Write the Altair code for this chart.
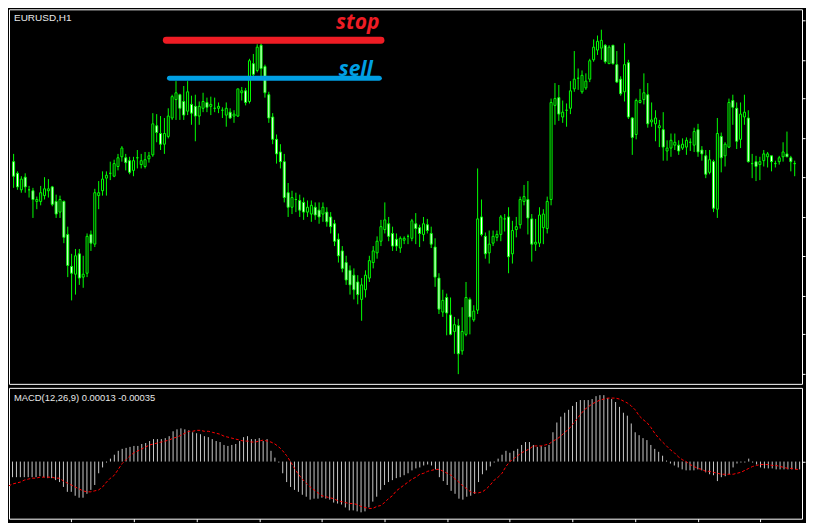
import altair as alt
import pandas as pd

SYMBOL = "EURUSD,H1"
MACD_LABEL = "MACD(12,26,9) 0.00013 -0.00035"
BASE = 1.3  # prices below are pips above 1.30000

O = [242,230,213,226,213,212,201,201,207,212,
     216,201,190,201,167,134,126,147,123,127,
     167,157,207,212,225,230,227,237,247,246,
     243,233,246,239,237,245,249,279,271,260,
     268,287,306,311,304,294,301,299,289,297,
     303,299,297,297,295,290,293,289,289,313,
     315,304,343,336,362,340,311,288,265,252,
     242,210,195,203,202,200,190,188,195,192,
     188,190,185,178,162,150,138,130,125,118,
     100,110,122,138,148,160,172,178,168,162,
     153,161,165,163,178,174,167,177,168,154,
     122,87,102,84,67,73,47,64,100,79,
     89,185,165,148,158,164,167,183,185,147,
     172,177,201,203,183,157,158,174,173,203,
     300,308,288,295,297,317,328,314,318,327,
     347,357,359,362,343,362,342,327,314,344,
     287,270,303,306,311,283,281,277,275,253,
     256,259,259,256,257,262,259,275,254,248,
     231,242,193,268,248,257,305,297,265,288,
     287,240,242,239,243,247,248,240,242,247,
     250,246,240]
H = [250,232,227,230,217,215,206,217,226,224,
     217,208,207,202,175,147,152,152,145,168,
     171,214,222,232,232,242,244,250,258,250,
     247,247,254,250,252,252,292,291,289,287,
     297,311,325,312,320,325,310,311,304,313,
     308,309,308,303,298,303,297,295,317,319,
     318,348,353,363,364,342,314,292,270,260,
     250,220,212,210,208,205,202,202,200,200,
     200,195,190,182,168,155,145,135,132,125,
     122,130,145,155,165,182,200,185,175,168,
     165,165,167,183,189,177,185,183,175,163,
     127,110,106,102,82,80,92,118,102,94,
     235,203,169,171,171,171,187,188,195,181,
     185,206,218,222,188,183,195,193,206,307,
     323,321,305,302,325,356,338,336,333,348,
     368,372,378,363,362,362,356,330,364,347,
     288,307,317,333,323,303,295,285,293,264,
     271,271,264,266,267,266,277,281,258,254,
     254,244,287,272,262,307,311,303,303,311,
     295,250,248,247,254,252,248,243,248,262,
     273,248,243]
L = [215,213,210,210,205,184,193,197,203,205,
     196,184,184,158,123,99,105,115,112,123,
     150,154,193,207,207,223,226,233,242,233,
     229,227,235,235,235,241,247,262,254,250,
     266,285,285,285,285,290,280,263,280,293,
     293,290,293,292,287,278,286,282,288,305,
     300,302,328,334,330,308,282,260,240,235,
     200,185,188,190,185,182,185,180,182,178,
     180,175,168,155,138,128,115,105,100,95,
     78,102,118,132,142,155,168,160,150,150,
     148,157,157,160,157,154,160,168,153,113,
     85,82,63,63,44,23,43,62,64,77,
     85,165,142,137,155,160,160,170,127,137,
     164,173,197,167,139,150,154,157,168,197,
     280,284,282,278,291,314,316,312,316,324,
     345,352,347,343,343,342,323,310,304,286,
     249,265,302,301,277,278,263,257,243,243,
     247,254,249,254,249,253,252,247,243,225,
     229,190,184,231,237,256,280,255,256,280,
     241,225,222,223,237,236,232,236,239,242,
     247,232,227]
C = [227,216,224,216,213,203,203,210,214,214,
     198,188,203,164,135,127,145,122,126,165,
     158,210,210,224,228,230,240,246,256,241,
     231,243,246,243,244,248,281,272,260,271,
     289,309,313,297,290,314,292,289,299,304,
     298,301,297,299,295,297,287,291,317,315,
     303,346,332,360,338,313,287,265,250,242,
     205,195,205,203,192,190,195,197,187,185,
     195,180,175,160,145,132,120,115,110,105,
     115,125,140,150,160,175,182,165,155,155,
     163,163,165,181,173,168,178,171,157,123,
     90,99,86,64,74,44,67,102,82,88,
     183,167,147,157,165,167,185,183,144,171,
     175,203,206,184,157,159,187,188,201,303,
     307,291,293,295,315,327,328,331,325,346,
     360,366,367,345,360,343,324,312,342,288,
     267,305,305,313,281,285,287,279,257,256,
     264,262,253,260,264,262,273,252,250,229,
     244,194,271,246,260,303,298,263,291,293,
     242,240,237,242,250,250,242,240,246,252,
     247,242,240]

# MACD histogram and signal, in units of 0.00001
HIST = [-16,-16,-16,-16,-16,-16,-16,-16,-15,-16,
        -17,-17,-19,-21,-26,-31,-31,-35,-37,-37,
        -33,-29,-24,-12,-6,-1,3,7,11,13,
        14,15,16,16,18,19,21,23,23,23,
        24,26,31,33,34,33,32,30,29,28,
        26,25,23,21,20,17,16,17,18,21,
        25,26,23,23,24,21,23,11,4,-1,
        -12,-21,-26,-29,-31,-34,-36,-39,-38,-38,
        -37,-38,-39,-42,-43,-44,-47,-50,-50,-51,
        -52,-51,-47,-41,-36,-29,-24,-21,-19,-17,
        -16,-14,-12,-9,-7,-6,-4,-3,-4,-8,
        -16,-20,-24,-30,-33,-38,-39,-36,-35,-33,
        -21,-13,-9,-5,-1,3,7,11,9,11,
        13,17,20,20,17,15,16,15,17,30,
        40,46,50,53,57,61,63,63,63,64,
        67,68,68,65,64,61,56,50,47,39,
        30,27,24,22,17,13,10,6,1,-2,
        -4,-6,-8,-9,-9,-9,-8,-9,-11,-13,
        -14,-20,-16,-15,-13,-6,-2,-1,-1,3,
        -1,-3,-6,-7,-7,-7,-8,-8,-8,-8,
        -8,-8,-8]
SIGNAL = [-25,-23,-22,-21,-19,-18,-17,-17,-16,-16,
          -16,-16,-17,-17,-20,-22,-24,-26,-28,-30,
          -31,-31,-30,-29,-26,-21,-17,-14,-8,-2,
          2,6,9,11,13,15,17,18,19,20,
          21,22,24,25,27,29,31,31,32,32,
          31,31,30,29,28,26,25,24,23,22,
          21,21,20,20,21,22,21,20,18,15,
          11,6,0,-7,-13,-18,-22,-26,-29,-32,
          -35,-36,-37,-38,-40,-41,-42,-43,-43,-44,
          -46,-47,-48,-48,-46,-45,-42,-38,-35,-30,
          -27,-24,-21,-18,-16,-13,-12,-10,-9,-8,
          -8,-10,-12,-14,-18,-21,-25,-28,-31,-32,
          -32,-31,-28,-24,-19,-16,-12,-5,0,3,
          6,9,11,13,16,16,16,17,18,21,
          23,26,30,33,38,43,48,53,56,59,
          61,63,64,65,65,65,64,62,60,57,
          53,47,43,40,35,29,24,20,16,12,
          9,5,2,0,-3,-5,-7,-8,-10,-10,
          -11,-12,-13,-13,-13,-13,-12,-11,-9,-7,
          -5,-4,-3,-3,-3,-4,-4,-5,-6,-7,
          -7,-8,-8]

# annotation levels (pips above 1.30000), drawn between bar indices
LEVEL_NAMES = ["stop", "sell"]
LEVEL_PIPS = [367, 328]
LEVEL_FROM = [39.5, 40.3]
LEVEL_TO = [95.0, 94.6]
LEVEL_COLORS = ["#ee1c24", "#009fe3"]
LEVEL_WIDTHS = [7, 5]
LABEL_PIPS = [379, 330]
LABEL_AT = [94.6, 92.9]

PRICE_TICKS = [388, 347, 307, 266, 226, 185, 145, 104, 64, 23]
TIME_TICKS = [16, 32, 48, 64, 80, 96, 112, 128, 144, 160, 176, 192]

n = len(C)
df = pd.DataFrame({
    "bar": list(range(n)),
    "open": [BASE + v / 1e4 for v in O],
    "high": [BASE + v / 1e4 for v in H],
    "low": [BASE + v / 1e4 for v in L],
    "close": [BASE + v / 1e4 for v in C],
    "hist": [v / 1e5 for v in HIST],
    "signal": [v / 1e5 for v in SIGNAL],
    "zero": [0.0] * n,
})
lv = pd.DataFrame({
    "name": LEVEL_NAMES,
    "price": [BASE + v / 1e4 for v in LEVEL_PIPS],
    "x1": LEVEL_FROM,
    "x2": LEVEL_TO,
    "lp": [BASE + v / 1e4 for v in LABEL_PIPS],
    "lx": LABEL_AT,
})

W = 794
XDOM = [0.1, 202.6]
xs = alt.Scale(domain=XDOM, nice=False, zero=False)
ys = alt.Scale(domain=[BASE + 13 / 1e4, BASE + 399 / 1e4], nice=False, zero=False)
ms = alt.Scale(domain=[-58.5 / 1e5, 75.5 / 1e5], nice=False, zero=False)

yaxis = alt.Axis(orient="right", values=[BASE + v / 1e4 for v in PRICE_TICKS], labels=False,
                 ticks=True, tickSize=3, tickColor="#ffffff", domain=False, grid=False, title=None)
xnone = alt.X("bar:Q", scale=xs, axis=None)

base = alt.Chart(df)
wicks = base.mark_rule(color="#00ff00", strokeWidth=1, clip=True).encode(
    x=xnone, y=alt.Y("low:Q", scale=ys, axis=yaxis), y2="high:Q")
bodies = base.mark_bar(size=2, stroke="#00ff00", strokeWidth=1, clip=True).encode(
    x=xnone, y=alt.Y("open:Q", scale=ys, axis=yaxis), y2="close:Q",
    fill=alt.condition("datum.close < datum.open", alt.value("#ffffff"), alt.value("#000000")))
lines = alt.Chart(lv).mark_rule(strokeCap="round").encode(
    x=alt.X("x1:Q", scale=xs, axis=None), x2="x2:Q",
    y=alt.Y("price:Q", scale=ys, axis=yaxis),
    color=alt.Color("name:N", scale=alt.Scale(domain=LEVEL_NAMES, range=LEVEL_COLORS), legend=None),
    strokeWidth=alt.StrokeWidth("name:N", scale=alt.Scale(domain=LEVEL_NAMES, range=LEVEL_WIDTHS), legend=None))
labels = alt.Chart(lv).mark_text(font="Open Sans", fontSize=21, fontWeight="bold", fontStyle="italic",
                                 align="right", baseline="alphabetic").encode(
    x=alt.X("lx:Q", scale=xs, axis=None), y=alt.Y("lp:Q", scale=ys, axis=yaxis), text="name:N",
    color=alt.Color("name:N", scale=alt.Scale(domain=LEVEL_NAMES, range=LEVEL_COLORS), legend=None))
sym = alt.Chart(pd.DataFrame({"t": [SYMBOL]})).mark_text(
    font="Liberation Sans", fontSize=10, color="#e8e8e8", align="left", baseline="alphabetic").encode(
    text="t:N", x=alt.value(5), y=alt.value(12))

main = alt.layer(wicks, bodies, lines, labels, sym).properties(width=W, height=375)

xaxis = alt.Axis(values=TIME_TICKS, labels=False, ticks=True, tickSize=3, tickColor="#ffffff",
                 domain=False, grid=False, title=None)
maxis = alt.Axis(orient="right", values=[0], labels=False, ticks=True, tickSize=3,
                 tickColor="#ffffff", domain=False, grid=False, title=None)
hist = base.mark_rule(color="#c8c8c8", strokeWidth=1, clip=True).encode(
    x=alt.X("bar:Q", scale=xs, axis=xaxis), y=alt.Y("zero:Q", scale=ms, axis=maxis), y2="hist:Q")
sig = base.mark_line(color="#ff0000", strokeWidth=1, strokeDash=[3, 2], clip=True).encode(
    x=alt.X("bar:Q", scale=xs, axis=xaxis), y=alt.Y("signal:Q", scale=ms, axis=maxis))
mlab = alt.Chart(pd.DataFrame({"t": [MACD_LABEL]})).mark_text(
    font="Liberation Sans", fontSize=9.4, color="#e8e8e8", align="left", baseline="alphabetic").encode(
    text="t:N", x=alt.value(5), y=alt.value(13))
macd = alt.layer(hist, sig, mlab).properties(width=W, height=131)

chart = alt.vconcat(main, macd, spacing=2).properties(
    padding={"left": 0, "top": 0, "right": 0, "bottom": 0}
).configure(background="#000000").configure_view(stroke="#ffffff", strokeWidth=1, fill="#000000")

chart.save("out.html", embed_options={"renderer": "svg", "actions": False})
